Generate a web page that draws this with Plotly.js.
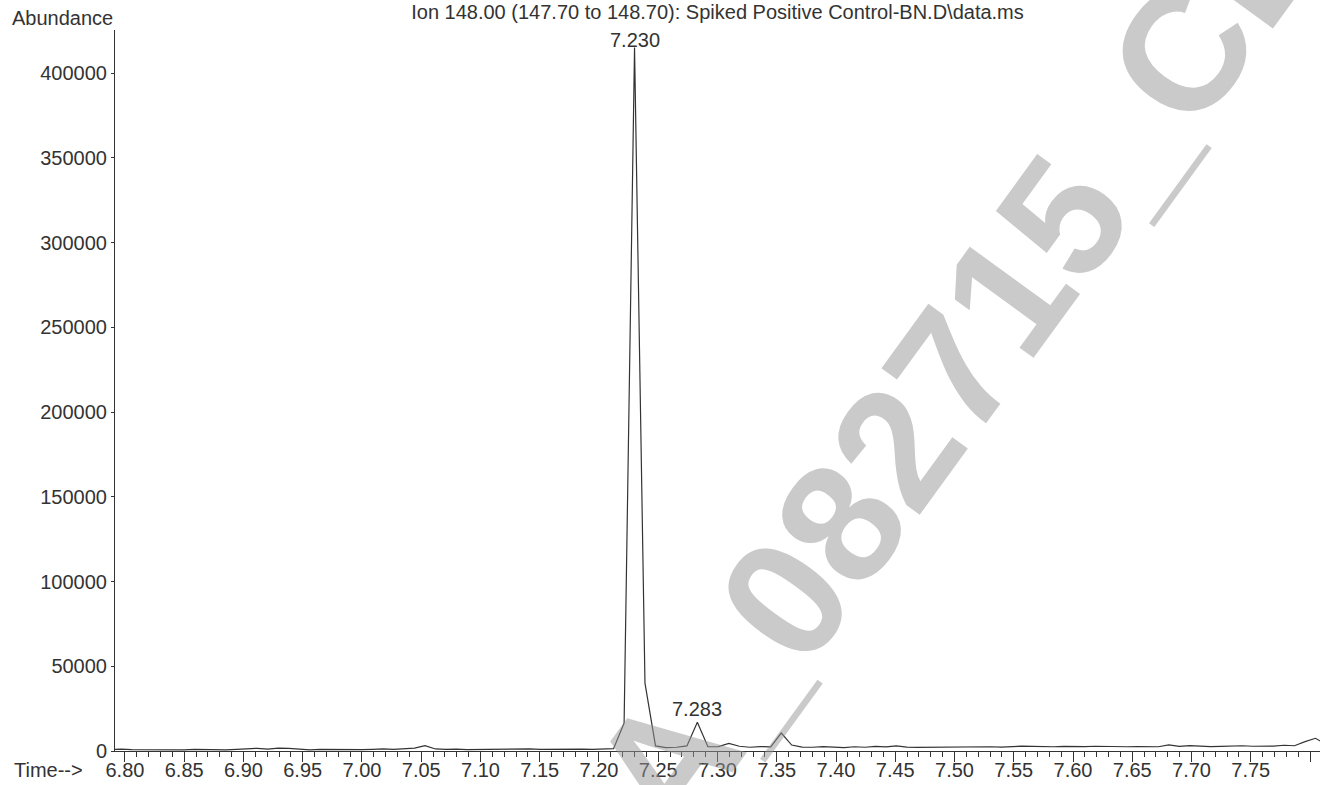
<!DOCTYPE html>
<html>
<head>
<meta charset="utf-8">
<script src="https://cdn.plot.ly/plotly-3.0.1.min.js"></script>
<style>
html,body{margin:0;padding:0;background:#fff;}
#chart{width:1327px;height:785px;}
</style>
</head>
<body>
<div id="chart"></div>
<script>
// Retention time (min) of each scan
var times = [
 6.7880, 6.7968, 6.8057, 6.8145, 6.8234, 6.8322, 6.8410, 6.8499, 6.8587, 6.8676,
 6.8764, 6.8852, 6.8941, 6.9029, 6.9118, 6.9206, 6.9294, 6.9383, 6.9471, 6.9560,
 6.9648, 6.9736, 6.9825, 6.9913, 7.0002, 7.0090, 7.0178, 7.0267, 7.0355, 7.0444,
 7.0532, 7.0620, 7.0709, 7.0797, 7.0886, 7.0974, 7.1062, 7.1151, 7.1239, 7.1328,
 7.1416, 7.1504, 7.1593, 7.1681, 7.1770, 7.1858, 7.1946, 7.2035, 7.2123, 7.2212,
 7.2300, 7.2388, 7.2477, 7.2565, 7.2654, 7.2742, 7.2830, 7.2919, 7.3007, 7.3096,
 7.3184, 7.3272, 7.3361, 7.3449, 7.3538, 7.3626, 7.3714, 7.3803, 7.3891, 7.3980,
 7.4068, 7.4156, 7.4245, 7.4333, 7.4422, 7.4510, 7.4598, 7.4687, 7.4775, 7.4864,
 7.4952, 7.5040, 7.5129, 7.5217, 7.5306, 7.5394, 7.5482, 7.5571, 7.5659, 7.5748,
 7.5836, 7.5924, 7.6013, 7.6101, 7.6190, 7.6278, 7.6366, 7.6455, 7.6543, 7.6632,
 7.6720, 7.6808, 7.6897, 7.6985, 7.7074, 7.7162, 7.7250, 7.7339, 7.7427, 7.7516,
 7.7604, 7.7692, 7.7781, 7.7869, 7.7958, 7.8046, 7.8134
];
// Abundance of ion 148.00 at each scan
var abundance = [
 900, 1100, 800, 700, 900, 600, 800, 700, 1000, 800,
 900, 700, 1000, 1200, 1600, 1100, 1700, 1500, 900, 700,
 900, 800, 700, 900, 800, 1000, 1300, 900, 1200, 1700,
 3200, 1200, 900, 1100, 800, 900, 800, 1000, 900, 1100,
 1300, 900, 1000, 1200, 900, 1100, 900, 1000, 1400, 16500,
 415000, 40000, 3000, 2000, 2200, 3000, 17000, 2500, 2600, 4500,
 2800, 2200, 2600, 2400, 10600, 3500, 2300, 2200, 2600, 2300,
 2000, 2500, 2200, 2700, 2400, 3000, 2300, 2100, 2200, 2000,
 2100, 2300, 2400, 2800, 2500, 2300, 2600, 2900, 2700, 2400,
 2500, 2700, 2500, 2600, 2800, 2600, 2700, 2500, 2600, 2700,
 2500, 3600, 2700, 3200, 2800, 2600, 2700, 2900, 3100, 2800,
 2700, 2900, 3400, 3100, 5500, 7500, 4000
];
// Labelled peaks
var peakTimes = [7.230, 7.283];
var peakAbund = [415000, 17000];
var peakLabels = ["7.230", "7.283"];
// Axis ticks
var xTickVals = [6.80, 6.85, 6.90, 6.95, 7.00, 7.05, 7.10, 7.15, 7.20, 7.25, 7.30, 7.35, 7.40, 7.45, 7.50, 7.55, 7.60, 7.65, 7.70, 7.75, 7.80];
var xTickText = ["6.80", "6.85", "6.90", "6.95", "7.00", "7.05", "7.10", "7.15", "7.20", "7.25", "7.30", "7.35", "7.40", "7.45", "7.50", "7.55", "7.60", "7.65", "7.70", "7.75", ""];
var yTickVals = [0, 50000, 100000, 150000, 200000, 250000, 300000, 350000, 400000];
var titleText = "Ion 148.00 (147.70 to 148.70): Spiked Positive Control-BN.D\\data.ms";
var watermarkText = "A_082715_CE";

var ink = "#333333";
var fontFam = "Liberation Sans, Arial, Helvetica, sans-serif";

var trace = {
  x: times, y: abundance, type: "scatter", mode: "lines",
  line: {color: ink, width: 1.2}, hoverinfo: "x+y"
};

var annotations = [];
// faint diagonal watermark
annotations.push({
  text: "<b>" + watermarkText + "</b>", xref: "paper", yref: "paper",
  x: 0.6988, y: 0.5381, xanchor: "center", yanchor: "middle",
  textangle: -54, showarrow: false,
  font: {family: fontFam, size: 170, color: "rgba(150,150,150,0.5)"}
});
for (var i = 0; i < peakTimes.length; i++) {
  annotations.push({
    x: peakTimes[i], y: peakAbund[i], xref: "x", yref: "y",
    text: peakLabels[i], showarrow: false, xanchor: "center", yanchor: "middle",
    yshift: i === 0 ? 8 : 13,
    font: {family: fontFam, size: 20, color: ink}
  });
}
annotations.push({
  text: "Abundance", xref: "paper", yref: "paper", x: -0.0871, y: 1.016,
  xanchor: "left", yanchor: "middle", showarrow: false,
  font: {family: fontFam, size: 20, color: ink}
});
annotations.push({
  text: "Time-->", xref: "paper", yref: "paper", x: -0.0855, y: -0.0264,
  xanchor: "left", yanchor: "middle", showarrow: false,
  font: {family: fontFam, size: 20, color: ink}
});

var layout = {
  width: 1327, height: 785,
  paper_bgcolor: "#ffffff", plot_bgcolor: "#ffffff",
  margin: {l: 115, r: 7, t: 30, b: 34},
  showlegend: false,
  font: {family: fontFam, size: 20, color: ink},
  title: {
    text: titleText, x: 0.5, xref: "paper", xanchor: "center",
    y: 0.985, yref: "container", yanchor: "middle",
    font: {family: fontFam, size: 20, color: ink}
  },
  xaxis: {
    range: [6.7916, 7.8084],
    tickmode: "array", tickvals: xTickVals, ticktext: xTickText,
    ticks: "outside", ticklen: 10, tickwidth: 1, tickcolor: ink,
    ticklabelstandoff: -9,
    showline: true, linecolor: ink, linewidth: 1,
    showgrid: false, zeroline: false,
    tickfont: {family: fontFam, size: 20, color: ink},
    minor: {dtick: 0.01, tick0: 6.80, ticks: "outside", ticklen: 5, tickwidth: 1, tickcolor: ink, showgrid: false}
  },
  yaxis: {
    range: [0, 425400],
    tickmode: "array", tickvals: yTickVals, tickformat: "d",
    ticks: "outside", ticklen: 3, tickwidth: 1, tickcolor: ink,
    showline: true, linecolor: ink, linewidth: 1,
    showgrid: false, zeroline: false,
    tickfont: {family: fontFam, size: 20, color: ink}
  },
  annotations: annotations
};

Plotly.newPlot("chart", [trace], layout, {displayModeBar: false, staticPlot: true});
</script>
</body>
</html>
